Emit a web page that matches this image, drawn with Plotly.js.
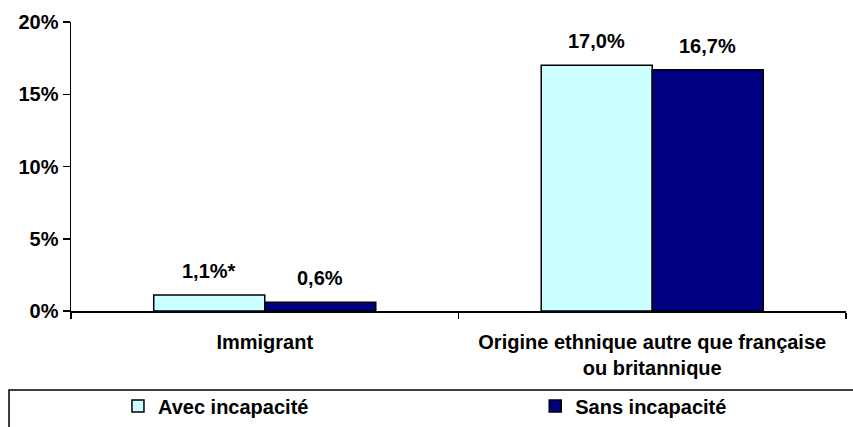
<!DOCTYPE html>
<html>
<head>
<meta charset="utf-8">
<script src="https://cdn.plot.ly/plotly-3.0.1.min.js"></script>
<style>html,body{margin:0;padding:0;background:#fff;}#chart{width:853px;height:427px;}</style>
</head>
<body>
<div id="chart"></div>
<script>
const categories = ['Immigrant', 'Origine ethnique autre que française<br>ou britannique'];
const avecValues = [1.1, 17.0];
const sansValues = [0.6, 16.7];
const avecLabels = ['1,1%*', '17,0%'];
const sansLabels = ['0,6%', '16,7%'];
const seriesNames = ['Avec incapacité', 'Sans incapacité'];

const FONT = {family: '"Liberation Sans", Arial, sans-serif', size: 20, color: '#000', weight: 'bold'};
const BARGAP = 0.427;
const half = (1 - BARGAP) / 4;

const traces = [
  {type: 'bar', name: seriesNames[0], x: categories, y: avecValues, legend: 'legend',
   marker: {color: '#CCFFFF', line: {color: '#000', width: 1.5}}, hoverinfo: 'none'},
  {type: 'bar', name: seriesNames[1], x: categories, y: sansValues, legend: 'legend2',
   marker: {color: '#000080', line: {color: '#000', width: 1.5}}, hoverinfo: 'none'}
];

const annotations = [];
categories.forEach((c, i) => {
  annotations.push({xref: 'x', yref: 'y', x: i - half, y: avecValues[i], text: avecLabels[i],
    showarrow: false, yanchor: 'bottom', yshift: 11, font: FONT});
  annotations.push({xref: 'x', yref: 'y', x: i + half, y: sansValues[i], text: sansLabels[i],
    showarrow: false, yanchor: 'bottom', yshift: 11, font: FONT});
});

const legendBase = {orientation: 'h', xanchor: 'left', y: -0.329, yanchor: 'middle',
  font: FONT, bgcolor: 'rgba(0,0,0,0)'};

const layout = {
  width: 853, height: 427,
  margin: {l: 71, r: 7, t: 22, b: 116, autoexpand: false},
  paper_bgcolor: '#fff', plot_bgcolor: '#fff',
  font: FONT,
  barmode: 'group', bargap: BARGAP, bargroupgap: 0,
  showlegend: true,
  legend: Object.assign({}, legendBase, {x: 0.0606}),
  legend2: Object.assign({}, legendBase, {x: 0.599}),
  xaxis: {type: 'category', showline: true, linecolor: '#000', linewidth: 1.5,
    ticks: 'outside', tickson: 'boundaries', ticklen: 6, tickcolor: '#000', tickwidth: 1.5,
    showgrid: false, zeroline: false, tickfont: FONT, ticklabelstandoff: 12, fixedrange: true},
  yaxis: {range: [0, 20], dtick: 5, tick0: 0, ticksuffix: '%', showline: true, linecolor: '#000', linewidth: 1.5,
    ticks: 'outside', ticklen: 7, tickcolor: '#000', tickwidth: 1.5, showgrid: false, zeroline: false,
    tickfont: FONT, fixedrange: true},
  shapes: [{type: 'rect', xref: 'paper', yref: 'paper', x0: -0.08, x1: 1.2, y0: -0.2734, y1: -0.7,
    line: {color: '#000', width: 1.5}, fillcolor: 'rgba(0,0,0,0)'}],
  annotations: annotations
};

Plotly.newPlot('chart', traces, layout, {displayModeBar: false, staticPlot: true});
</script>
</body>
</html>
